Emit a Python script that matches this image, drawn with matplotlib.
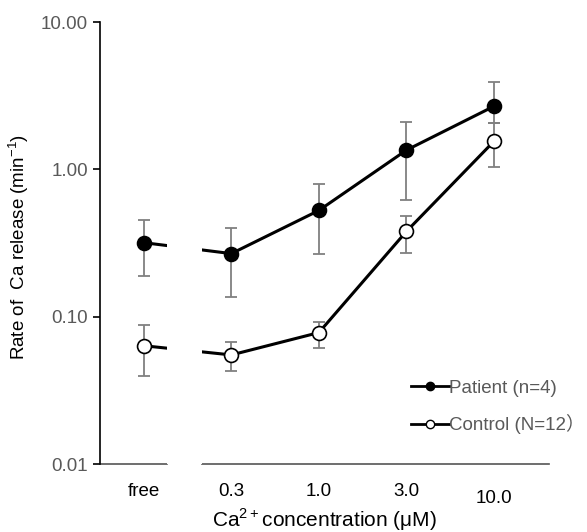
import numpy as np
import matplotlib.pyplot as plt
from matplotlib.lines import Line2D

plt.rcParams['font.family'] = ['Liberation Sans', 'Noto Sans CJK JP', 'DejaVu Sans']

# data
conc = ["free", "0.3", "1.0", "3.0", "10.0"]
patient = [0.318, 0.268, 0.526, 1.35, 2.68]
patient_hi = [0.45, 0.40, 0.79, 2.09, 3.9]
patient_lo = [0.19, 0.135, 0.268, 0.615, 2.05]
control = [0.0635, 0.055, 0.078, 0.379, 1.55]
control_hi = [0.088, 0.0676, 0.0925, 0.486, 2.05]
control_lo = [0.0397, 0.043, 0.0615, 0.272, 1.03]

x = np.arange(len(conc))
patient = np.array(patient)
control = np.array(control)
p_err = [patient - np.array(patient_lo), np.array(patient_hi) - patient]
c_err = [control - np.array(control_lo), np.array(control_hi) - control]

fig = plt.figure(figsize=(5.87, 5.32), dpi=100)
ax = fig.add_axes([0.1704, 0.1278, 0.765, 0.8308])

# error bars (grey, behind)
ax.errorbar(x, patient, yerr=p_err, fmt="none", ecolor="#808080",
            elinewidth=1.3, capsize=4, capthick=1.3, zorder=1)
ax.errorbar(x, control, yerr=c_err, fmt="none", ecolor="#808080",
            elinewidth=1.3, capsize=4, capthick=1.3, zorder=1)

# lines
ax.plot(x, patient, color="black", lw=2.2, zorder=2)
ax.plot(x, control, color="black", lw=2.2, zorder=2)

# break between "free" and 0.3
ax.axvspan(0.26, 0.66, color="white", zorder=3, lw=0)

# markers
ax.plot(x, patient, "o", ms=10, mfc="black", mec="black", mew=1.2, zorder=4)
ax.plot(x, control, "o", ms=10, mfc="white", mec="black", mew=1.2, zorder=4)

ax.set_yscale("log")
ax.set_ylim(0.01, 10)
ax.set_xlim(-0.5, 4.63)
ax.set_yticks([0.01, 0.1, 1, 10])
ax.set_yticklabels(["0.01", "0.10", "1.00", "10.00"])
ax.minorticks_off()
ax.tick_params(axis="y", labelcolor="#595959", labelsize=13.5, length=5,
               width=1.2, direction="out", color="black")
ax.set_xticks(x)
ax.set_xticklabels(conc)
ax.tick_params(axis="x", length=0, pad=14, labelsize=13.5)
ax.get_xticklabels()[-1].set_y(-0.015)

for s in ["top", "right", "bottom"]:
    ax.spines[s].set_visible(False)
ax.spines["left"].set_linewidth(1.2)

# broken x axis
xt = ax.get_xaxis_transform()
ax.plot([-0.5, 0.26], [0, 0], color="#555555", lw=1.2, transform=xt, clip_on=False)
ax.plot([0.66, 4.63], [0, 0], color="#555555", lw=1.2, transform=xt, clip_on=False)

ax.set_xlabel(r"Ca$^{\mathregular{2+}}$concentration (μM)", fontsize=15)
ax.xaxis.set_label_coords(0.5, -0.095)
ax.set_ylabel(r"Rate of  Ca release (min$^{\mathregular{-1}}$)", fontsize=13.5,
              color="black")
ax.yaxis.set_label_coords(-0.154, 0.49)

handles = [
    Line2D([], [], color="black", lw=2.0, marker="o", ms=6, mfc="black", mec="black"),
    Line2D([], [], color="black", lw=2.0, marker="o", ms=6, mfc="white", mec="black"),
]
leg = ax.legend(handles, ["Patient (n=4)", "Control (N=12）"], loc="lower right",
                bbox_to_anchor=(1.096, 0.05), borderaxespad=0, frameon=False,
                fontsize=13.5, handlelength=2.0, handletextpad=0.0,
                labelspacing=0.95)
for t in leg.get_texts():
    t.set_color("#595959")

plt.savefig("out.png", dpi=100)
